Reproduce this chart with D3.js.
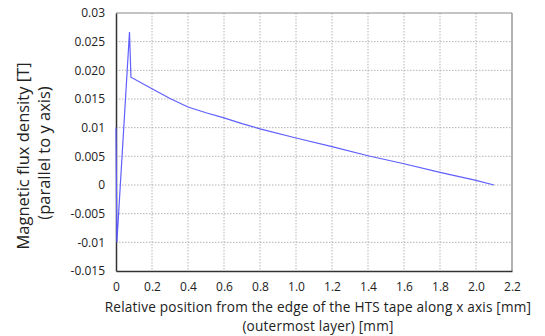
<!DOCTYPE html>
<html>
<head>
<meta charset="utf-8">
<script src="https://cdn.jsdelivr.net/npm/d3@7"></script>
<style>
  body { margin: 0; background: #fff; }
  text { font-family: "Open Sans", "Noto Sans", sans-serif; fill: #222; }
</style>
</head>
<body>
<svg id="chart"></svg>
<script>
var width = 545, height = 336;
var margin = { top: 13, right: 33, bottom: 65, left: 116 };

// data
var xPos = [0, 0.005, 0.075, 0.083, 0.2, 0.3, 0.4, 0.5, 0.6, 0.7, 0.8, 1.0, 1.2, 1.4, 1.6, 1.8, 2.0, 2.1];
var bVal = [0.01, -0.01, 0.0267, 0.0188, 0.0168, 0.0151, 0.0136, 0.0126, 0.0117, 0.0107, 0.0098, 0.0082, 0.0067, 0.0051, 0.0037, 0.0022, 0.0008, 0.0];
var xTicks = [0, 0.2, 0.4, 0.6, 0.8, 1.0, 1.2, 1.4, 1.6, 1.8, 2.0, 2.2];
var xTickLabels = ["0", "0.2", "0.4", "0.6", "0.8", "1.0", "1.2", "1.4", "1.6", "1.8", "2.0", "2.2"];
var yTicks = [-0.015, -0.01, -0.005, 0, 0.005, 0.01, 0.015, 0.02, 0.025, 0.03];
var yTickLabels = ["-0.015", "-0.01", "-0.005", "0", "0.005", "0.01", "0.015", "0.020", "0.025", "0.03"];

var data = xPos.map(function(d, i) { return { x: d, y: bVal[i] }; });

var w = width - margin.left - margin.right;
var h = height - margin.top - margin.bottom;

var svg = d3.select('#chart')
  .attr('width', width)
  .attr('height', height)
  .append('g')
  .attr('transform', 'translate(' + margin.left + ',' + margin.top + ')');

var x = d3.scaleLinear().domain([0, 2.2]).range([0, w]);
var y = d3.scaleLinear().domain([-0.015, 0.03]).range([h, 0]);

// grid lines
svg.append('g')
  .selectAll('line')
  .data(xTicks.slice(1, -1))
  .enter().append('line')
  .attr('x1', d => x(d)).attr('x2', d => x(d))
  .attr('y1', 0).attr('y2', h)
  .attr('stroke', '#b4b4b4')
  .attr('stroke-dasharray', '1.5 1.5');

svg.append('g')
  .selectAll('line')
  .data(yTicks.slice(1, -1))
  .enter().append('line')
  .attr('x1', 0).attr('x2', w)
  .attr('y1', d => y(d)).attr('y2', d => y(d))
  .attr('stroke', '#b4b4b4')
  .attr('stroke-dasharray', '1.5 1.5');

// frame
svg.append('line').attr('x1', 0).attr('x2', w).attr('y1', 0).attr('y2', 0)
  .attr('stroke', '#888').attr('stroke-width', 1.2);
svg.append('line').attr('x1', w).attr('x2', w).attr('y1', 0).attr('y2', h)
  .attr('stroke', '#999').attr('stroke-width', 1.5);

// x axis
var xAxis = svg.append('g')
  .attr('transform', 'translate(0,' + h + ')')
  .call(d3.axisBottom(x).tickValues(xTicks).tickSize(0).tickPadding(11)
    .tickFormat((d, i) => xTickLabels[i]));
xAxis.select('.domain').attr('stroke', '#333').attr('stroke-width', 1.5);
xAxis.selectAll('text').style('font-size', '12px').attr('fill', '#333');

// y axis
var yAxis = svg.append('g')
  .call(d3.axisLeft(y).tickValues(yTicks).tickSize(0).tickPadding(11)
    .tickFormat((d, i) => yTickLabels[i]));
yAxis.select('.domain').attr('stroke', '#333').attr('stroke-width', 1.5);
yAxis.selectAll('text').style('font-size', '12px').attr('fill', '#333');

// the curve
var line = d3.line().x(d => x(d.x)).y(d => y(d.y));
svg.append('path')
  .datum(data)
  .attr('d', line)
  .attr('fill', 'none')
  .attr('stroke', '#5f5fff')
  .attr('stroke-width', 1.2);

// x axis label
svg.append('text')
  .attr('x', 202).attr('y', h + 41)
  .attr('text-anchor', 'middle')
  .style('font-size', '13.6px')
  .style('letter-spacing', '0.2px')
  .text('Relative position from the edge of the HTS tape along x axis [mm]');
svg.append('text')
  .attr('x', 202).attr('y', h + 60)
  .attr('text-anchor', 'middle')
  .style('font-size', '13.6px')
  .style('letter-spacing', '0.2px')
  .text('(outermost layer) [mm]');

// y axis label
svg.append('g')
  .attr('transform', 'translate(' + (-margin.left + 29) + ',' + 143 + ') rotate(-90)')
  .append('text')
  .attr('text-anchor', 'middle')
  .style('font-size', '16.5px')
  .text('Magnetic flux density [T]');
svg.append('g')
  .attr('transform', 'translate(' + (-margin.left + 50) + ',' + 140 + ') rotate(-90)')
  .append('text')
  .attr('text-anchor', 'middle')
  .style('font-size', '16.5px')
  .text('(parallel to y axis)');
</script>
</body>
</html>
